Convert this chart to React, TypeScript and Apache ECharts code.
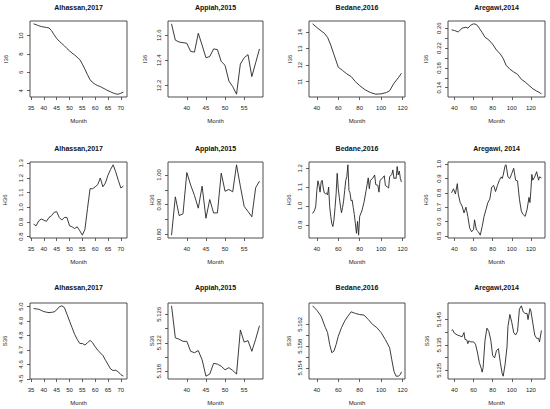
import React, { useEffect, useRef } from "react";
import * as echarts from "echarts";

// ---------- data ----------
const TITLES = [
  "Alhassan,2017", "Appiah,2015", "Bedane,2016", "Aregawi,2014",
  "Alhassan,2017", "Appiah,2015", "Bedane,2016", "Aregawi, 2014",
  "Alhassan,2017", "Appiah,2015", "Bedane,2016", "Aregawi,2014",
];
const Y_NAMES = ["I36", "I36", "I36", "I36", "H36", "H36", "H36", "H36", "S36", "S36", "S36", "S36"];
const X_NAME = "Month";

const MONTH_A = [36,37,38,39,40,41,42,43,44,45,46,47,48,49,50,51,52,53,54,55,56,57,58,59,60,61,62,63,64,65,66,67,68,69,70,71];
const MONTH_B = [36,37,38,39,40,41,42,43,44,45,46,47,48,49,50,51,52,53,54,55,56,57,58,59];

const ALHASSAN_I36 = [11.3,11.2,11.1,11.0,10.95,10.9,10.85,10.55,10.1,9.7,9.4,9.15,8.9,8.6,8.35,8.1,7.9,7.65,7.4,6.9,6.35,5.75,5.2,4.9,4.7,4.55,4.45,4.3,4.15,4.0,3.88,3.75,3.65,3.62,3.72,3.85];
const APPIAH_I36 = [12.69,12.56,12.545,12.54,12.535,12.47,12.465,12.615,12.52,12.42,12.43,12.49,12.485,12.39,12.36,12.235,12.19,12.13,12.37,12.42,12.445,12.27,12.38,12.49];
const BEDANE_I36_MONTH = [36,40,44,47,50,53,56,60,64,68,72,76,80,85,90,95,100,105,108,112,116,119];
const BEDANE_I36 = [14.51,14.29,14.08,13.94,13.69,13.22,12.64,11.88,11.68,11.47,11.31,11.0,10.76,10.51,10.34,10.24,10.26,10.34,10.45,10.9,11.23,11.51];
const AREGAWI_I36_MONTH = [37,40,44,48,52,54,57,60,63,66,69,72,76,80,84,88,91,94,98,102,106,110,114,118,122,126,130,131];
const AREGAWI_I36 = [0.2566,0.2553,0.2525,0.26,0.262,0.26,0.266,0.2688,0.2675,0.26,0.2512,0.2417,0.2363,0.2275,0.216,0.2078,0.199,0.1854,0.1773,0.1719,0.1671,0.157,0.1515,0.1447,0.138,0.1332,0.1292,0.127];

const ALHASSAN_H36 = [0.885,0.874,0.908,0.92,0.913,0.904,0.931,0.943,0.966,0.97,0.931,0.913,0.931,0.931,0.874,0.867,0.855,0.867,0.84,0.81,0.85,0.99,1.127,1.127,1.14,1.155,1.2,1.14,1.166,1.22,1.258,1.29,1.242,1.185,1.132,1.145];
const APPIAH_H36 = [0.797,0.926,0.863,0.869,1.008,0.966,0.931,0.888,0.962,0.854,0.917,0.872,0.872,1.006,0.945,0.951,0.943,1.034,0.962,0.894,0.877,0.859,0.957,0.979];
const BEDANE_H36_MONTH = [36,38,39,40,41,42,43,44,45,46,47,48,49,50,51,52,53,54,55,56,57,58,59,60,61,62,63,64,65,66,67,68,69,70,71,72,73,74,75,76,77,78,79,80,82,84,86,88,89,90,92,94,95,97,98,99,101,103,104,106,107,108,110,111,112,113,114,115,116,117,118,119];
const BEDANE_H36 = [0.96,0.978,1.0,1.082,1.133,1.11,1.073,1.127,1.136,1.095,1.069,1.064,1.069,1.058,1.1,0.996,0.945,0.905,0.891,0.927,0.991,1.064,1.173,1.091,1.045,1.0,0.964,0.991,1.027,1.082,1.136,1.155,1.218,1.082,1.069,1.027,1.031,0.991,0.955,0.905,0.855,0.918,0.845,0.945,0.973,1.018,1.082,1.149,1.091,1.136,1.145,1.164,1.113,1.109,1.073,1.136,1.145,1.16,1.109,1.1,1.095,1.155,1.167,1.191,1.145,1.149,1.145,1.209,1.164,1.185,1.145,1.127];
const AREGAWI_H36_MONTH = [37,39,41,43,44,46,48,50,52,54,56,58,60,61,63,65,67,69,71,73,75,77,79,81,83,85,87,89,90,91,93,94,96,98,100,102,104,106,108,110,112,114,116,118,119,120,121,122,124,126,128,129,131];
const AREGAWI_H36 = [0.8,0.828,0.792,0.864,0.792,0.732,0.708,0.66,0.7,0.636,0.553,0.529,0.545,0.612,0.541,0.529,0.505,0.565,0.636,0.684,0.732,0.756,0.84,0.852,0.809,0.852,0.888,0.911,0.9,0.923,0.99,0.995,0.911,0.9,0.935,0.971,0.888,0.883,0.756,0.672,0.648,0.636,0.684,0.768,0.732,0.816,0.928,0.888,0.911,0.947,0.888,0.911,0.904];

const ALHASSAN_S36 = [4.986,4.984,4.981,4.973,4.965,4.961,4.958,4.96,4.963,4.977,4.998,5.005,4.993,4.947,4.9,4.854,4.808,4.773,4.745,4.745,4.734,4.75,4.766,4.75,4.722,4.699,4.68,4.662,4.63,4.6,4.569,4.558,4.56,4.549,4.53,4.519];
const APPIAH_S36 = [5.1272,5.1227,5.1225,5.1222,5.1222,5.1208,5.1206,5.1209,5.1196,5.1173,5.1176,5.1191,5.119,5.1187,5.1182,5.1185,5.1181,5.1176,5.1238,5.1221,5.1223,5.1208,5.1225,5.1244];
const BEDANE_S36_MONTH = [36,40,44,48,50,52,54,56,58,60,63,66,69,72,76,80,84,88,92,96,100,104,108,110,112,114,116,118,119];
const BEDANE_S36 = [5.1654,5.1646,5.1635,5.1614,5.1605,5.1583,5.1568,5.1571,5.1583,5.1598,5.1614,5.1626,5.1635,5.1643,5.164,5.1638,5.1637,5.1629,5.162,5.1614,5.1605,5.1592,5.1577,5.1555,5.1534,5.1525,5.1525,5.1528,5.1533];
const AREGAWI_S36_MONTH = [37,38,40,43,46,48,50,51,53,54,55,57,60,62,64,66,68,69,70,72,74,76,78,80,82,84,86,88,90,91,93,95,96,98,100,102,104,106,108,110,112,114,116,117,119,120,122,124,126,128,129,131];
const AREGAWI_S36 = [5.1407,5.141,5.1396,5.1389,5.1385,5.1382,5.1399,5.1372,5.1369,5.1355,5.1366,5.1362,5.1362,5.1353,5.1322,5.1281,5.1258,5.1243,5.1261,5.1369,5.1416,5.1403,5.1369,5.1308,5.1299,5.1328,5.1335,5.1281,5.1236,5.1227,5.1274,5.1342,5.1423,5.147,5.1439,5.1399,5.1389,5.1403,5.1491,5.1504,5.148,5.1474,5.1474,5.145,5.1493,5.1484,5.1436,5.1389,5.1376,5.1376,5.1362,5.1407];

// tick values and labels
const X_TICKS_A = [35,40,45,50,55,60,65,70];
const X_TICKS_B = [40,45,50,55];
const X_TICKS_C = [40,60,80,100,120];

const Y_TICKS = [
  [4,6,8,10],
  [12.2,12.4,12.6],
  [11,12,13,14],
  [0.14,0.16,0.18,0.20,0.22,0.24,0.26],
  [0.8,0.9,1.0,1.1,1.2,1.3],
  [0.80,0.85,0.90,0.95,1.00],
  [0.9,1.0,1.1,1.2],
  [0.5,0.6,0.7,0.8,0.9,1.0],
  [4.5,4.6,4.7,4.8,4.9,5.0],
  [5.118,5.120,5.122,5.124,5.126],
  [5.154,5.156,5.158,5.160,5.162],
  [5.125,5.130,5.135,5.140,5.145],
];
const Y_LABEL_VALUES = [
  [4,6,8,10],
  [12.2,12.4,12.6],
  [11,12,13,14],
  [0.14,0.18,0.22,0.26],
  [0.8,0.9,1.0,1.1,1.2,1.3],
  [0.80,0.90,1.00],
  [0.9,1.0,1.1,1.2],
  [0.5,0.6,0.7,0.8,0.9,1.0],
  [4.5,4.6,4.7,4.8,4.9,5.0],
  [5.118,5.122,5.126],
  [5.154,5.158,5.162],
  [5.125,5.135,5.145],
];
const Y_LABEL_TEXT = [
  ["4","6","8","10"],
  ["12.2","12.4","12.6"],
  ["11","12","13","14"],
  ["0.14","0.18","0.22","0.26"],
  ["0.8","0.9","1.0","1.1","1.2","1.3"],
  ["0.80","0.90","1.00"],
  ["0.9","1.0","1.1","1.2"],
  ["0.5","0.6","0.7","0.8","0.9","1.0"],
  ["4.5","4.6","4.7","4.8","4.9","5.0"],
  ["5.118","5.122","5.126"],
  ["5.154","5.158","5.162"],
  ["5.125","5.135","5.145"],
];

const PANEL_MONTHS = [
  MONTH_A, MONTH_B, BEDANE_I36_MONTH, AREGAWI_I36_MONTH,
  MONTH_A, MONTH_B, BEDANE_H36_MONTH, AREGAWI_H36_MONTH,
  MONTH_A, MONTH_B, BEDANE_S36_MONTH, AREGAWI_S36_MONTH,
];
const PANEL_VALUES = [
  ALHASSAN_I36, APPIAH_I36, BEDANE_I36, AREGAWI_I36,
  ALHASSAN_H36, APPIAH_H36, BEDANE_H36, AREGAWI_H36,
  ALHASSAN_S36, APPIAH_S36, BEDANE_S36, AREGAWI_S36,
];
const COL_X_TICKS = [X_TICKS_A, X_TICKS_B, X_TICKS_C, X_TICKS_C];
// R default: data range extended by 4% on each side
const X_RANGE = [[36,71],[36,59],[36,119],[37,131]];

// ---------- layout ----------
const COL_X = [[30,127],[168,263],[309,405],[448,545]];
const ROW_Y = [[21,97],[162,238],[303,379]];
const TITLE_Y = [7,148,287];
const Y_NAME_GAP = [
  [21,20,16,19],
  [22,12,17,19],
  [22,12,17,18],
];
const FONT = "Liberation Sans, Arial, Helvetica, sans-serif";

function padRange(lo: number, hi: number) {
  const p = (hi - lo) * 0.04;
  return [lo - p, hi + p];
}

export default function App() {
  const ref = useRef<HTMLDivElement>(null);
  useEffect(() => {
    if (!ref.current) return;
    const chart = echarts.init(ref.current, undefined, { renderer: "svg" });
    const grid: any[] = [];
    const xAxis: any[] = [];
    const yAxis: any[] = [];
    const series: any[] = [];
    const graphic: any[] = [];
    for (let i = 0; i < 12; i++) {
      const r = Math.floor(i / 4);
      const c = i % 4;
      const [x0, x1] = COL_X[c];
      const [y0, y1] = ROW_Y[r];
      grid.push({
        left: x0, top: y0, width: x1 - x0, height: y1 - y0,
        show: true, borderColor: "#3a3a3a", borderWidth: 0.9, backgroundColor: "transparent",
        containLabel: false,
      });
      const [xmin, xmax] = padRange(X_RANGE[c][0], X_RANGE[c][1]);
      const vals = PANEL_VALUES[i];
      const [ymin, ymax] = padRange(Math.min(...vals), Math.max(...vals));
      const labVals = Y_LABEL_VALUES[i];
      const labTxt = Y_LABEL_TEXT[i];
      xAxis.push({
        type: "value", gridIndex: i, min: xmin, max: xmax,
        axisLine: { show: false, onZero: false },
        axisTick: { show: true, length: 3, customValues: COL_X_TICKS[c], lineStyle: { color: "#3a3a3a", width: 0.8 } },
        axisLabel: {
          customValues: COL_X_TICKS[c], margin: 8, fontSize: 6, color: "#222", fontFamily: FONT,
          formatter: (v: number) => String(Math.round(v)),
        },
        splitLine: { show: false },
        name: X_NAME, nameLocation: "middle", nameGap: 21,
        nameTextStyle: { fontSize: 6, color: "#222", fontFamily: FONT },
      });
      yAxis.push({
        type: "value", gridIndex: i, min: ymin, max: ymax,
        axisLine: { show: false, onZero: false },
        axisTick: { show: true, length: 3, customValues: Y_TICKS[i], lineStyle: { color: "#3a3a3a", width: 0.8 } },
        axisLabel: {
          customValues: labVals, rotate: 90, margin: 6, fontSize: 6, color: "#222", fontFamily: FONT,
          formatter: (v: number) => {
            const k = labVals.findIndex((t) => Math.abs(t - v) < 1e-7);
            return k >= 0 ? labTxt[k] : "";
          },
        },
        splitLine: { show: false },
        name: Y_NAMES[i], nameLocation: "middle", nameGap: Y_NAME_GAP[r][c], nameRotate: 90,
        nameTextStyle: { fontSize: 6, color: "#222", fontFamily: FONT },
      });
      const months = PANEL_MONTHS[i];
      series.push({
        type: "line", xAxisIndex: i, yAxisIndex: i,
        data: months.map((m, k) => [m, vals[k]]),
        showSymbol: false, symbol: "none",
        lineStyle: { color: "#262626", width: 0.9 },
        silent: true,
      });
      graphic.push({
        type: "text",
        x: (x0 + x1) / 2, y: TITLE_Y[r],
        style: {
          text: TITLES[i], align: "center", verticalAlign: "middle",
          fontSize: 7, fontWeight: "bold", fontFamily: FONT, fill: "#111",
        },
      });
    }
    chart.setOption({
      animation: false,
      backgroundColor: "#fff",
      grid, xAxis, yAxis, series, graphic,
    });
    return () => chart.dispose();
  }, []);
  return (
    <div
      ref={ref}
      style={{ position: "fixed", left: 0, top: 0, width: 550, height: 409 }}
    />
  );
}
